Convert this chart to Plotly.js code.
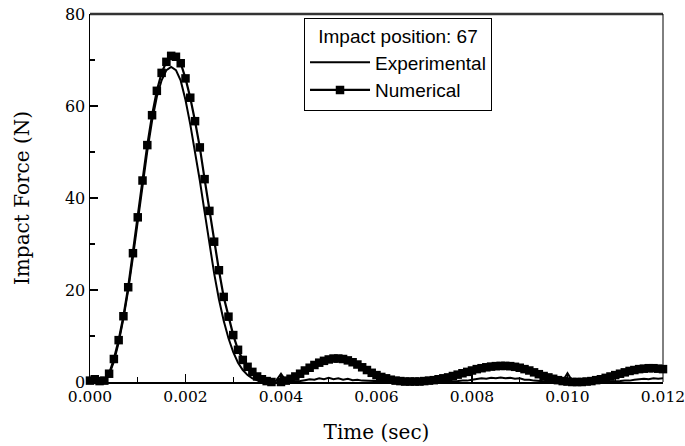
<!DOCTYPE html>
<html>
<head>
<meta charset="utf-8">
<script src="https://cdn.plot.ly/plotly-3.0.1.min.js"></script>
<style>html,body{margin:0;padding:0;background:#fff;}#chart{width:685px;height:446px;}</style>
</head>
<body>
<div id="chart"></div>
<script>
var timeSec = [
0.0000,0.0001,0.0002,0.0003,0.0004,0.0005,0.0006,0.0007,0.0008,0.0009,
0.0010,0.0011,0.0012,0.0013,0.0014,0.0015,0.0016,0.0017,0.0018,0.0019,
0.0020,0.0021,0.0022,0.0023,0.0024,0.0025,0.0026,0.0027,0.0028,0.0029,
0.0030,0.0031,0.0032,0.0033,0.0034,0.0035,0.0036,0.0037,0.0038,0.0039,
0.0040,0.0041,0.0042,0.0043,0.0044,0.0045,0.0046,0.0047,0.0048,0.0049,
0.0050,0.0051,0.0052,0.0053,0.0054,0.0055,0.0056,0.0057,0.0058,0.0059,
0.0060,0.0061,0.0062,0.0063,0.0064,0.0065,0.0066,0.0067,0.0068,0.0069,
0.0070,0.0071,0.0072,0.0073,0.0074,0.0075,0.0076,0.0077,0.0078,0.0079,
0.0080,0.0081,0.0082,0.0083,0.0084,0.0085,0.0086,0.0087,0.0088,0.0089,
0.0090,0.0091,0.0092,0.0093,0.0094,0.0095,0.0096,0.0097,0.0098,0.0099,
0.0100,0.0101,0.0102,0.0103,0.0104,0.0105,0.0106,0.0107,0.0108,0.0109,
0.0110,0.0111,0.0112,0.0113,0.0114,0.0115,0.0116,0.0117,0.0118,0.0119,
0.0120];

var experimental = [
0.0,0.0,0.1,0.4,1.6,4.4,8.6,13.8,20.0,27.2,
35.0,42.8,50.2,56.8,62.0,65.6,67.8,68.5,67.8,65.5,
61.3,56.0,50.3,43.8,37.0,30.0,23.6,18.0,13.3,9.5,
6.5,4.2,2.6,1.5,0.8,0.4,0.2,0.1,0.1,0.3,
1.8,0.3,0.1,0.1,0.2,0.4,0.6,0.5,0.8,0.6,
0.9,0.6,0.8,0.5,0.7,0.4,0.5,0.3,0.3,0.2,
0.2,0.1,0.2,0.1,0.1,0.1,0.2,0.1,0.1,0.1,
0.2,0.1,0.1,0.2,0.1,0.2,0.2,0.2,0.3,0.3,
0.5,0.6,0.8,0.7,0.9,0.8,1.0,0.8,0.9,0.7,
0.8,0.5,0.5,0.3,0.2,0.2,0.1,0.1,0.1,0.2,
1.9,0.2,0.1,0.1,0.1,0.1,0.1,0.2,0.1,0.2,
0.2,0.2,0.3,0.3,0.5,0.6,0.7,0.6,0.8,0.7,
0.8];

var numerical = [
0.3,0.6,0.2,0.3,1.8,5.0,9.1,14.3,20.6,28.0,
35.8,43.8,51.5,58.0,63.3,67.2,69.6,70.9,70.7,69.3,
66.0,61.8,56.7,51.0,44.1,37.2,30.5,24.3,18.5,14.2,
10.2,7.0,4.8,3.3,2.2,1.2,0.6,0.2,0.0,-0.1,
0.0,0.3,0.7,1.2,1.8,2.5,3.1,3.7,4.2,4.6,
4.9,5.1,5.1,5.0,4.7,4.3,3.8,3.2,2.6,2.0,
1.5,1.1,0.8,0.5,0.3,0.2,0.1,0.1,0.1,0.1,
0.2,0.3,0.4,0.6,0.8,1.0,1.3,1.6,1.9,2.2,
2.5,2.8,3.0,3.2,3.35,3.45,3.5,3.5,3.45,3.3,
3.1,2.8,2.5,2.1,1.7,1.3,1.0,0.7,0.4,0.2,
0.1,0.0,0.0,0.0,0.1,0.2,0.4,0.6,0.9,1.2,
1.5,1.8,2.1,2.4,2.6,2.8,2.9,3.0,3.0,2.9,
2.8];

var xTickVals = [0, 0.002, 0.004, 0.006, 0.008, 0.010, 0.012];
var xTickText = ["0.000", "0.002", "0.004", "0.006", "0.008", "0.010", "0.012"];
var legendTitle = "Impact position: 67";
var seriesNames = ["Experimental", "Numerical"];
var xTitle = "Time (sec)";
var yTitle = "Impact Force (N)";

var serif = "DejaVu Serif, Liberation Serif, serif";
var sans = "Liberation Sans, Arial, sans-serif";

var traces = [
  {x: timeSec, y: experimental, name: seriesNames[0], type: "scatter", mode: "lines",
   line: {color: "#000", width: 2}, cliponaxis: false},
  {x: timeSec, y: numerical, name: seriesNames[1], type: "scatter", mode: "lines+markers",
   line: {color: "#000", width: 2.2}, marker: {symbol: "square", size: 8.5, color: "#000"}, cliponaxis: false}
];

var layout = {
  width: 685, height: 446,
  margin: {l: 90, r: 22, t: 14, b: 64},
  paper_bgcolor: "#fff", plot_bgcolor: "#fff",
  showlegend: true,
  legend: {
    x: 0.3735, y: 0.99, xanchor: "left", yanchor: "top",
    bgcolor: "#fff", bordercolor: "#000", borderwidth: 1,
    font: {family: sans, size: 19, color: "#000"},
    title: {text: legendTitle, font: {family: sans, size: 19, color: "#000"}, side: "top center"},
    tracegroupgap: 0, itemwidth: 60
  },
  xaxis: {
    range: [0, 0.0120001], tickvals: xTickVals, ticktext: xTickText,
    ticks: "inside", ticklen: 8, tickwidth: 1.2, tickcolor: "#000",
    minor: {dtick: 0.001, ticks: "inside", ticklen: 5, tickwidth: 1.2, tickcolor: "#000"},
    showline: true, linecolor: "#000", linewidth: 1.5, showgrid: false, zeroline: false,
    tickfont: {family: serif, size: 15.5, color: "#000"}, ticklabeloverflow: "allow",
    title: {text: xTitle, font: {family: serif, size: 20, color: "#000"}, standoff: 20},
    automargin: false
  },
  yaxis: {
    range: [0, 80], dtick: 20, ticks: "inside", ticklen: 8, tickwidth: 1.2, tickcolor: "#000",
    minor: {dtick: 10, ticks: "inside", ticklen: 5, tickwidth: 1.2, tickcolor: "#000"},
    showline: true, linecolor: "#000", linewidth: 1.5, showgrid: false, zeroline: false,
    tickfont: {family: serif, size: 16, color: "#000"},
    title: {text: yTitle, font: {family: serif, size: 20, color: "#000"}, standoff: 30},
    automargin: false
  },
  shapes: [
    {type: "line", xref: "paper", yref: "paper", x0: 0, x1: 1, y0: 1, y1: 1, line: {color: "#333", width: 2.5}},
    {type: "line", xref: "paper", yref: "paper", x0: 1, x1: 1, y0: 0, y1: 1, line: {color: "#000", width: 1}}
  ]
};

Plotly.newPlot("chart", traces, layout, {displayModeBar: false, staticPlot: true});
</script>
</body>
</html>
